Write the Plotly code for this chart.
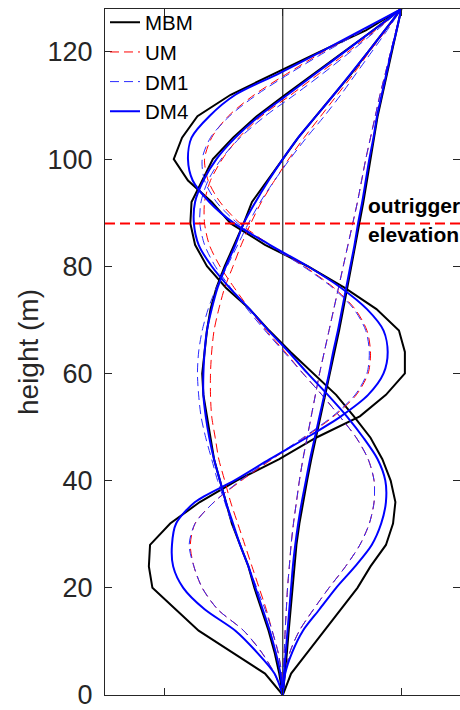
import plotly.graph_objects as go

# ---------------- data ----------------
HEIGHTS = [0, 4, 8, 12, 16, 20, 24, 28, 32, 36, 40, 44, 48, 52, 56, 60, 64,
           68, 72, 76, 80, 84, 88, 92, 96, 100, 104, 108, 112, 116, 120, 124, 128]
OUTRIGGER_H = 88
Y_TICKS = [0, 20, 40, 60, 80, 100, 120]
X_TICKS = [-1, 0, 1]

MBM_MODE1 = [0, 0.02, 0.035, 0.05, 0.065, 0.08, 0.095, 0.115, 0.14, 0.17, 0.205, 0.24, 0.28, 0.32, 0.36, 0.40, 0.435,
             0.475, 0.51, 0.545, 0.58, 0.615, 0.647, 0.68, 0.71, 0.74, 0.77, 0.80, 0.84, 0.88, 0.92, 0.96, 1.0]
MBM_MODE2 = [0, -0.03, -0.07, -0.12, -0.18, -0.24, -0.29, -0.36, -0.43, -0.48, -0.53, -0.58, -0.61, -0.64, -0.67, -0.68, -0.66,
             -0.64, -0.61, -0.56, -0.49, -0.41, -0.33, -0.26, -0.13, 0.0, 0.13, 0.28, 0.43, 0.58, 0.72, 0.86, 1.0]
MBM_MODE3 = [0, 0.07, 0.21, 0.35, 0.49, 0.63, 0.74, 0.87, 0.93, 0.95, 0.91, 0.84, 0.74, 0.60, 0.45, 0.26, 0.065,
             -0.115, -0.28, -0.48, -0.64, -0.74, -0.78, -0.77, -0.68, -0.59, -0.42, -0.22, 0.02, 0.27, 0.51, 0.76, 1.0]
MBM_MODE4 = [0, -0.15, -0.43, -0.71, -0.905, -1.10, -1.13, -1.12, -0.95, -0.70, -0.39, -0.03, 0.28, 0.65, 0.87, 1.03, 1.03,
             0.98, 0.79, 0.52, 0.21, -0.15, -0.44, -0.60, -0.80, -0.92, -0.85, -0.72, -0.44, -0.07, 0.31, 0.70, 1.0]

UM_MODE1 = [0, 0.005, 0.012, 0.02, 0.03, 0.04, 0.055, 0.07, 0.09, 0.115, 0.14, 0.17, 0.205, 0.24, 0.275, 0.31, 0.35,
            0.39, 0.43, 0.47, 0.51, 0.55, 0.59, 0.63, 0.665, 0.70, 0.74, 0.78, 0.82, 0.865, 0.91, 0.955, 1.0]
UM_MODE2 = [0, -0.01, -0.04, -0.09, -0.14, -0.20, -0.26, -0.32, -0.38, -0.44, -0.49, -0.54, -0.57, -0.60, -0.61, -0.61, -0.60,
            -0.58, -0.54, -0.49, -0.42, -0.35, -0.27, -0.18, -0.07, 0.05, 0.18, 0.32, 0.46, 0.60, 0.73, 0.87, 1.0]
UM_MODE3 = [0, 0.02, 0.06, 0.14, 0.26, 0.39, 0.53, 0.65, 0.73, 0.77, 0.77, 0.72, 0.62, 0.48, 0.33, 0.17, 0.02,
            -0.14, -0.28, -0.41, -0.53, -0.62, -0.66, -0.66, -0.61, -0.51, -0.37, -0.18, 0.07, 0.31, 0.55, 0.78, 1.0]
UM_MODE4 = [0, -0.07, -0.18, -0.33, -0.55, -0.68, -0.75, -0.78, -0.74, -0.58, -0.35, -0.09, 0.18, 0.43, 0.62, 0.72, 0.74,
            0.71, 0.61, 0.43, 0.18, -0.11, -0.36, -0.53, -0.63, -0.66, -0.60, -0.46, -0.24, 0.04, 0.34, 0.67, 1.0]

DM1_MODE1 = [0, 0.005, 0.012, 0.02, 0.03, 0.04, 0.055, 0.07, 0.09, 0.115, 0.14, 0.17, 0.205, 0.24, 0.275, 0.31, 0.35,
             0.39, 0.43, 0.47, 0.51, 0.55, 0.59, 0.63, 0.665, 0.70, 0.74, 0.78, 0.82, 0.865, 0.91, 0.955, 1.0]
DM1_MODE2 = [0, -0.01, -0.04, -0.09, -0.15, -0.22, -0.29, -0.36, -0.43, -0.49, -0.55, -0.60, -0.65, -0.69, -0.71, -0.72, -0.71,
             -0.68, -0.63, -0.56, -0.47, -0.38, -0.29, -0.19, -0.07, 0.06, 0.20, 0.35, 0.49, 0.62, 0.75, 0.88, 1.0]
DM1_MODE3 = [0, 0.02, 0.06, 0.14, 0.26, 0.39, 0.53, 0.65, 0.73, 0.77, 0.77, 0.72, 0.62, 0.48, 0.33, 0.17, 0.01,
             -0.15, -0.30, -0.44, -0.57, -0.66, -0.70, -0.69, -0.63, -0.52, -0.36, -0.15, 0.10, 0.34, 0.57, 0.79, 1.0]
DM1_MODE4 = [0, -0.07, -0.18, -0.33, -0.55, -0.68, -0.75, -0.79, -0.74, -0.58, -0.36, -0.10, 0.17, 0.42, 0.61, 0.71, 0.73,
             0.70, 0.60, 0.42, 0.17, -0.12, -0.38, -0.56, -0.66, -0.68, -0.61, -0.45, -0.22, 0.06, 0.36, 0.68, 1.0]

DM4_MODE1 = [0, 0.01, 0.025, 0.04, 0.055, 0.07, 0.085, 0.105, 0.13, 0.16, 0.195, 0.23, 0.27, 0.31, 0.35, 0.39, 0.425,
             0.465, 0.50, 0.535, 0.57, 0.605, 0.635, 0.67, 0.70, 0.73, 0.765, 0.795, 0.835, 0.875, 0.915, 0.96, 1.0]
DM4_MODE2 = [0, -0.02, -0.06, -0.11, -0.17, -0.23, -0.29, -0.36, -0.42, -0.48, -0.53, -0.58, -0.62, -0.65, -0.67, -0.67, -0.66,
             -0.64, -0.60, -0.55, -0.48, -0.40, -0.33, -0.23, -0.12, 0.0, 0.13, 0.28, 0.43, 0.575, 0.72, 0.86, 1.0]
DM4_MODE3 = [0, 0.02, 0.08, 0.17, 0.31, 0.45, 0.61, 0.75, 0.83, 0.87, 0.865, 0.80, 0.68, 0.54, 0.38, 0.21, 0.05,
             -0.12, -0.28, -0.45, -0.60, -0.71, -0.75, -0.74, -0.67, -0.56, -0.40, -0.20, 0.04, 0.28, 0.52, 0.76, 1.0]
DM4_MODE4 = [0, -0.07, -0.22, -0.40, -0.66, -0.84, -0.925, -0.935, -0.90, -0.74, -0.41, -0.11, 0.20, 0.49, 0.72, 0.85, 0.885,
             0.85, 0.71, 0.49, 0.21, -0.11, -0.41, -0.62, -0.76, -0.80, -0.77, -0.62, -0.40, -0.03, 0.32, 0.66, 1.0]

SERIES = [
    ("MBM", [MBM_MODE1, MBM_MODE2, MBM_MODE3, MBM_MODE4]),
    ("UM", [UM_MODE1, UM_MODE2, UM_MODE3, UM_MODE4]),
    ("DM1", [DM1_MODE1, DM1_MODE2, DM1_MODE3, DM1_MODE4]),
    ("DM4", [DM4_MODE1, DM4_MODE2, DM4_MODE3, DM4_MODE4]),
]

STYLES = {
    "MBM": dict(color="#000000", width=2, dash="solid", shape="linear"),
    "UM": dict(color="#FF0000", width=1, dash="9px,5px", shape="spline"),
    "DM1": dict(color="#2A2AFF", width=1, dash="9px,5px", shape="spline"),
    "DM4": dict(color="#0000FF", width=2, dash="solid", shape="spline"),
}

FONT = "Liberation Sans, Arial, Helvetica, sans-serif"
AXC = "#262626"

fig = go.Figure()

for name, modes in SERIES:
    xs, ys = [], []
    for k, m in enumerate(modes):
        if k > 0:
            xs.append(None)
            ys.append(None)
        xs.extend(m)
        ys.extend(HEIGHTS)
    st = STYLES[name]
    fig.add_trace(go.Scatter(
        x=xs, y=ys, mode="lines", name=name,
        line=dict(color=st["color"], width=st["width"], dash=st["dash"],
                  shape=st["shape"], smoothing=0.8),
        connectgaps=False, hoverinfo="skip",
    ))

# helper (empty) trace that carries the mirrored top/right axes
fig.add_trace(go.Scatter(x=[], y=[], xaxis="x2", yaxis="y2", showlegend=False, hoverinfo="skip"))

XR = [-1.5, 1.495]
YR = [0, 128]

fig.update_layout(
    width=460, height=710,
    margin=dict(l=105, r=0, t=9, b=12),
    paper_bgcolor="white", plot_bgcolor="white",
    font=dict(family=FONT, color=AXC),
    showlegend=True,
    legend=dict(x=0, y=1.0095, xanchor="left", yanchor="top", bgcolor="rgba(0,0,0,0)",
                font=dict(family=FONT, size=20.5, color="#000000"),
                tracegroupgap=0, itemwidth=30),
    xaxis=dict(range=XR, tickvals=X_TICKS, showticklabels=False, ticks="inside", ticklen=7,
               tickcolor=AXC, showline=True, linecolor=AXC, linewidth=1, mirror=False,
               zeroline=False, showgrid=False, fixedrange=True),
    yaxis=dict(range=YR, tickvals=Y_TICKS, ticks="inside", ticklen=7, tickcolor=AXC,
               showline=True, linecolor=AXC, linewidth=1, mirror=False, zeroline=False,
               showgrid=False, tickfont=dict(family=FONT, size=27, color=AXC),
               ticklabelstandoff=6, ticklabeloverflow="allow",
               title=dict(text="height (m)", font=dict(family=FONT, size=28, color=AXC), standoff=0)),
    xaxis2=dict(range=XR, overlaying="x", side="top", tickvals=X_TICKS, showticklabels=False,
                ticks="inside", ticklen=7, tickcolor=AXC, showline=True, linecolor=AXC,
                linewidth=1, zeroline=False, showgrid=False),
    yaxis2=dict(range=YR, overlaying="y", side="right", tickvals=Y_TICKS, showticklabels=False,
                ticks="inside", ticklen=7, tickcolor=AXC, showline=False, zeroline=False,
                showgrid=False),
)

# vertical reference line at zero displacement
fig.add_shape(type="line", xref="x", yref="paper", x0=0, x1=0, y0=0, y1=1,
              line=dict(color="#000000", width=1), layer="below")
# outrigger elevation
fig.add_shape(type="line", xref="paper", yref="y", x0=0, x1=1, y0=OUTRIGGER_H, y1=OUTRIGGER_H,
              line=dict(color="#FF0000", width=2, dash="10px,5px"), layer="above")

fig.add_annotation(text="<b>outrigger</b>", xref="x", yref="y", x=0.70, y=OUTRIGGER_H + 3.4,
                   xanchor="left", yanchor="middle", showarrow=False,
                   font=dict(family=FONT, size=21, color="#000000"))
fig.add_annotation(text="<b>elevation</b>", xref="x", yref="y", x=0.70, y=OUTRIGGER_H - 2.0,
                   xanchor="left", yanchor="middle", showarrow=False,
                   font=dict(family=FONT, size=21, color="#000000"))

fig.write_html("out.html")
